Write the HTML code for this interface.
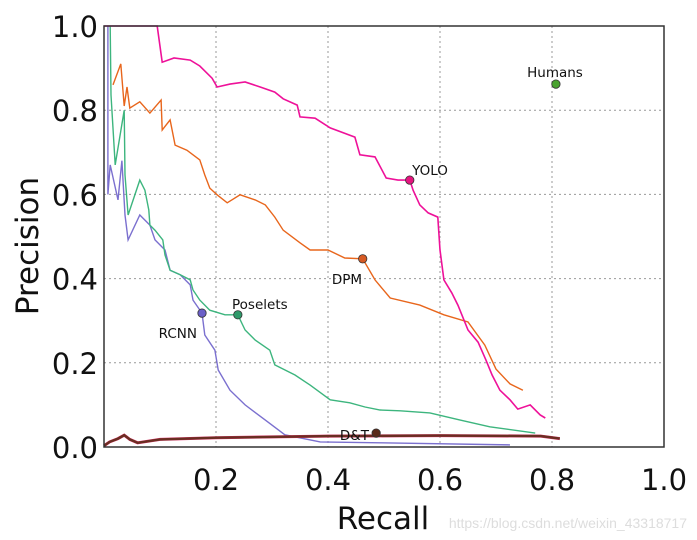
<!DOCTYPE html>
<html><head><meta charset="utf-8"><style>
html,body{margin:0;padding:0;background:#fff;}
svg{display:block;}
</style></head><body>
<svg id="chart" width="697" height="540" xmlns="http://www.w3.org/2000/svg">
<g id="grid"></g>
<g id="series"></g>
<rect x="104" y="26" width="560" height="421" fill="none" stroke="#333" stroke-width="1.5"/>
<g id="ticks" font-family="DejaVu Sans, Liberation Sans, sans-serif" font-size="29" fill="#111"></g>
<text x="383" y="529" text-anchor="middle" font-family="DejaVu Sans, Liberation Sans, sans-serif" font-size="31" fill="#111">Recall</text>
<text transform="translate(38,246) rotate(-90)" text-anchor="middle" font-family="DejaVu Sans, Liberation Sans, sans-serif" font-size="31" fill="#111">Precision</text>
<text x="687" y="528" text-anchor="end" font-family="Liberation Sans, sans-serif" font-size="14" fill="#ddd">https://blog.csdn.net/weixin_43318717</text>
<g id="labels" font-family="DejaVu Sans, Liberation Sans, sans-serif" font-size="13.5" fill="#111"></g>
</svg>
<script>
const ticks = [0.2, 0.4, 0.6, 0.8, 1.0];
const yTicks = [0.0, 0.2, 0.4, 0.6, 0.8, 1.0];
const yoloR = [0,0.095,0.104,0.125,0.154,0.171,0.193,0.202,0.225,0.252,0.279,0.305,0.320,0.345,0.350,0.377,0.404,0.448,0.457,0.484,0.504,0.525,0.546,0.552,0.564,0.579,0.596,0.600,0.607,0.621,0.632,0.650,0.668,0.682,0.693,0.707,0.725,0.739,0.761,0.779,0.788];
const yoloP = [1,1,0.914,0.924,0.919,0.905,0.876,0.855,0.862,0.867,0.855,0.843,0.827,0.812,0.784,0.781,0.758,0.736,0.694,0.689,0.639,0.634,0.634,0.610,0.575,0.556,0.546,0.468,0.397,0.366,0.337,0.278,0.249,0.207,0.171,0.135,0.112,0.090,0.100,0.076,0.069];
const dpmR = [0.016,0.030,0.036,0.041,0.046,0.064,0.082,0.102,0.104,0.118,0.127,0.148,0.171,0.180,0.189,0.202,0.220,0.243,0.270,0.288,0.305,0.320,0.350,0.368,0.400,0.430,0.462,0.484,0.511,0.564,0.607,0.650,0.680,0.700,0.725,0.748];
const dpmP = [0.86,0.91,0.81,0.855,0.805,0.82,0.793,0.824,0.753,0.777,0.717,0.705,0.682,0.646,0.615,0.599,0.580,0.599,0.587,0.575,0.546,0.515,0.485,0.468,0.468,0.449,0.447,0.397,0.354,0.337,0.314,0.297,0.242,0.185,0.15,0.135];
const poseR = [0.011,0.0125,0.020,0.036,0.0375,0.043,0.064,0.073,0.080,0.082,0.091,0.105,0.109,0.118,0.136,0.154,0.159,0.171,0.189,0.216,0.239,0.252,0.270,0.296,0.305,0.341,0.368,0.404,0.439,0.466,0.493,0.529,0.582,0.636,0.689,0.770];
const poseP = [1,0.836,0.67,0.8,0.646,0.551,0.634,0.61,0.563,0.527,0.515,0.492,0.456,0.42,0.409,0.397,0.373,0.349,0.325,0.314,0.314,0.278,0.254,0.230,0.195,0.171,0.147,0.112,0.105,0.095,0.088,0.086,0.081,0.064,0.048,0.033];
const rcnnR = [0.007,0.007,0.011,0.025,0.032,0.0375,0.043,0.064,0.082,0.091,0.109,0.118,0.136,0.154,0.159,0.175,0.180,0.198,0.204,0.225,0.252,0.288,0.323,0.386,0.493,0.725];
const rcnnP = [1,0.6,0.67,0.587,0.68,0.551,0.492,0.551,0.527,0.492,0.468,0.42,0.409,0.385,0.349,0.318,0.266,0.230,0.183,0.135,0.1,0.064,0.029,0.012,0.010,0.005];
const dtR = [0,0.01,0.025,0.036,0.046,0.06,0.1,0.2,0.4,0.6,0.78,0.814];
const dtP = [0.003,0.012,0.02,0.028,0.018,0.01,0.018,0.022,0.026,0.027,0.026,0.02];
const dotNames = ["YOLO","DPM","Poselets","RCNN","D&T","Humans"];
const dotR = [0.546,0.462,0.239,0.175,0.486,0.807];
const dotP = [0.634,0.447,0.314,0.318,0.033,0.862];

const X0=104,W=560,Y0=447,H=421;
const sx=r=>X0+r*W, sy=p=>Y0-p*H;
const NS="http://www.w3.org/2000/svg";
const g=document.getElementById('grid'), s=document.getElementById('series'), t=document.getElementById('ticks'), lb=document.getElementById('labels');
function mk(tag,attrs,parent){const e=document.createElementNS(NS,tag);for(const k in attrs)e.setAttribute(k,attrs[k]);parent.appendChild(e);return e;}
ticks.forEach(v=>{
  const l=mk('line',{x1:sx(v),x2:sx(v),y1:26,y2:447,stroke:'#999','stroke-dasharray':'2,3','stroke-width':1},g);
  
  
  const tx=mk('text',{x:sx(v),y:490,'text-anchor':'middle'},t);tx.textContent=v.toFixed(1);
  
  
});
yTicks.forEach(v=>{
  if(v>0&&v<1){const l=mk('line',{x1:104,x2:664,y1:sy(v),y2:sy(v),stroke:'#999','stroke-dasharray':'2,3','stroke-width':1},g);
  
  }
  const tx=mk('text',{x:98,y:sy(v)+11,'text-anchor':'end'},t);tx.textContent=v.toFixed(1);
  
  
});
function line(R,P,color,w,name){
  const pts=R.map((r,i)=>sx(r).toFixed(1)+','+sy(P[i]).toFixed(1)).join(' ');
  const pl=mk('polyline',{points:pts,fill:'none',stroke:color,'stroke-width':w,'stroke-linejoin':'miter'},s);
  
  
}
line(rcnnR,rcnnP,'#7b70cf',1.4,'rcnn-curve');
line(poseR,poseP,'#3db57e',1.4,'poselets-curve');
line(dpmR,dpmP,'#e8661c',1.4,'dpm-curve');
line(yoloR,yoloP,'#ee1199',1.6,'yolo-curve');
line(dtR,dtP,'#e0306a',3,'dt-curve-under');
line(dtR,dtP,'#6a2e22',2.4,'dt-curve');
const dotColors=['#e6157f','#d65a24','#2f9a6a','#6a5fc8','#5a2a1a','#4aa330'];
const lx=[430,362,232,197,369,555], ly=[175,284,309,338,440,77], la=['middle','end','start','end','end','middle'];
dotNames.forEach((n,i)=>{
  const c=mk('circle',{cx:sx(dotR[i]),cy:sy(dotP[i]),r:4.2,fill:dotColors[i],stroke:'#333','stroke-width':0.8},s);
  
  
  const tx=mk('text',{x:lx[i],y:ly[i],'text-anchor':la[i]},lb);tx.textContent=n;
  
  
});
</script>
</body></html>
